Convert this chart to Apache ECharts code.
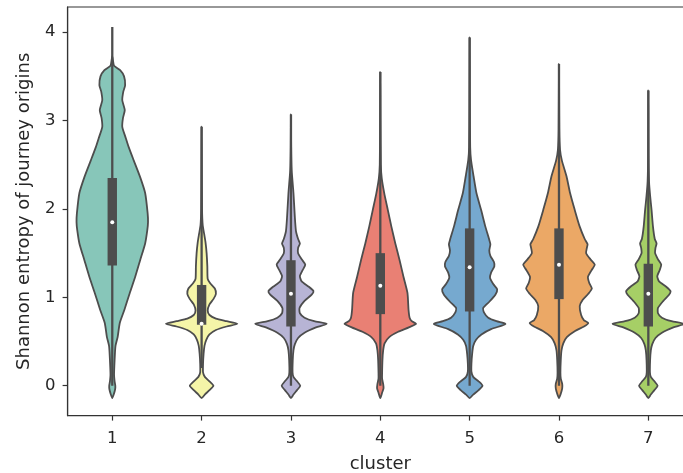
<!DOCTYPE html>
<html>
<head>
<meta charset="utf-8">
<script src="https://cdn.jsdelivr.net/npm/echarts@6/dist/echarts.min.js"></script>
<style>
  html, body { margin: 0; padding: 0; background: #fff; }
  #chart { width: 683px; height: 473px; }
</style>
</head>
<body>
<div id="chart"></div>
<script>
// Cluster labels on the x axis
const clusters = ['1', '2', '3', '4', '5', '6', '7'];
const yTicks = [0, 1, 2, 3, 4];

// Kernel density profiles: [entropy, relative density] (1 = widest violin)
const violin1 = [[-0.14,0],[-0.10,0.04],[-0.04,0.08],[0.0,0.085],[0.05,0.065],[0.12,0.05],[0.29,0.065],[0.45,0.09],[0.55,0.15],[0.71,0.21],[0.86,0.34],[1.05,0.49],[1.23,0.64],[1.42,0.78],[1.61,0.92],[1.76,0.98],[1.85,1.0],[1.95,0.99],[2.18,0.92],[2.36,0.78],[2.55,0.60],[2.70,0.46],[2.80,0.38],[2.93,0.28],[3.03,0.30],[3.12,0.35],[3.23,0.28],[3.33,0.31],[3.40,0.36],[3.50,0.33],[3.57,0.22],[3.62,0.05],[3.68,0.02],[3.73,0]];
const violin2 = [[-0.14,0],[-0.10,0.09],[-0.05,0.22],[0.0,0.33],[0.05,0.22],[0.10,0.09],[0.15,0.04],[0.25,0.04],[0.36,0.055],[0.45,0.08],[0.52,0.13],[0.58,0.22],[0.63,0.4],[0.67,0.7],[0.70,1.0],[0.73,0.7],[0.76,0.4],[0.80,0.22],[0.85,0.17],[0.92,0.22],[0.98,0.33],[1.04,0.40],[1.10,0.37],[1.16,0.24],[1.21,0.17],[1.35,0.16],[1.50,0.14],[1.62,0.11],[1.72,0.07],[1.82,0.03],[2.0,0.012],[2.5,0.005],[2.93,0]];
const violin3 = [[-0.14,0],[-0.10,0.07],[-0.05,0.17],[0.0,0.26],[0.05,0.17],[0.10,0.07],[0.15,0.045],[0.29,0.05],[0.40,0.07],[0.47,0.11],[0.54,0.2],[0.60,0.38],[0.66,0.7],[0.70,1.0],[0.73,0.65],[0.77,0.38],[0.82,0.25],[0.88,0.24],[0.96,0.38],[1.03,0.58],[1.07,0.63],[1.12,0.5],[1.18,0.3],[1.24,0.25],[1.31,0.33],[1.37,0.40],[1.43,0.3],[1.50,0.2],[1.56,0.2],[1.61,0.25],[1.66,0.2],[1.75,0.14],[1.90,0.11],[2.18,0.07],[2.44,0.02],[2.7,0.006],[3.07,0]];
const violin4 = [[-0.14,0],[-0.08,0.05],[-0.03,0.09],[0.02,0.08],[0.08,0.05],[0.14,0.05],[0.29,0.06],[0.40,0.08],[0.48,0.12],[0.55,0.25],[0.61,0.5],[0.66,0.8],[0.70,1.0],[0.73,0.88],[0.77,0.82],[0.86,0.79],[1.05,0.76],[1.23,0.65],[1.42,0.54],[1.61,0.42],[1.80,0.31],[1.99,0.21],[2.18,0.11],[2.35,0.04],[2.5,0.015],[3.0,0.005],[3.55,0]];
const violin5 = [[-0.14,0],[-0.10,0.1],[-0.05,0.25],[0.0,0.36],[0.05,0.25],[0.10,0.1],[0.16,0.05],[0.25,0.05],[0.36,0.07],[0.45,0.1],[0.52,0.18],[0.58,0.33],[0.64,0.6],[0.68,0.9],[0.70,1.0],[0.73,0.75],[0.77,0.52],[0.83,0.4],[0.88,0.38],[0.95,0.55],[1.03,0.72],[1.09,0.77],[1.15,0.66],[1.22,0.57],[1.28,0.6],[1.35,0.69],[1.40,0.68],[1.47,0.58],[1.53,0.55],[1.60,0.58],[1.65,0.55],[1.80,0.44],[1.99,0.32],[2.18,0.19],[2.37,0.11],[2.55,0.04],[2.7,0.015],[3.2,0.005],[3.94,0]];
const violin6 = [[-0.14,0],[-0.09,0.05],[-0.03,0.09],[0.02,0.09],[0.08,0.05],[0.15,0.04],[0.29,0.05],[0.40,0.07],[0.48,0.12],[0.55,0.22],[0.62,0.45],[0.67,0.7],[0.71,0.82],[0.74,0.7],[0.80,0.62],[0.90,0.58],[0.97,0.66],[1.04,0.82],[1.10,0.92],[1.16,0.85],[1.23,0.81],[1.30,0.9],[1.37,1.0],[1.43,0.88],[1.50,0.76],[1.56,0.78],[1.60,0.8],[1.66,0.72],[1.80,0.58],[1.99,0.44],[2.18,0.31],[2.37,0.21],[2.55,0.08],[2.67,0.03],[2.9,0.01],[3.64,0]];
const violin7 = [[-0.14,0],[-0.10,0.07],[-0.05,0.17],[0.0,0.26],[0.05,0.17],[0.10,0.07],[0.15,0.045],[0.29,0.05],[0.40,0.07],[0.47,0.11],[0.54,0.2],[0.60,0.38],[0.66,0.7],[0.70,1.0],[0.73,0.65],[0.77,0.38],[0.82,0.27],[0.88,0.27],[0.96,0.42],[1.03,0.58],[1.07,0.62],[1.12,0.5],[1.18,0.3],[1.24,0.25],[1.31,0.32],[1.37,0.36],[1.43,0.27],[1.50,0.19],[1.56,0.2],[1.61,0.23],[1.66,0.18],[1.80,0.13],[1.99,0.09],[2.15,0.05],[2.31,0.02],[2.6,0.006],[3.34,0]];

// Inner box statistics per cluster
const q1 = [1.36, 0.69, 0.67, 0.81, 0.84, 0.98, 0.67];
const median = [1.85, 0.70, 1.04, 1.13, 1.34, 1.37, 1.04];
const q3 = [2.35, 1.14, 1.42, 1.50, 1.78, 1.78, 1.38];
const whiskerLow = [0.0, 0.2, 0.0, 0.0, 0.0, 0.0, 0.0];
const whiskerHigh = [4.06, 2.93, 3.07, 3.55, 3.94, 3.64, 3.34];

const violins = [violin1, violin2, violin3, violin4, violin5, violin6, violin7];
const fillColors = ['#87c6b9', '#f5f5a8', '#b7b4d5', '#e98074', '#76a9cf', '#eba866', '#a6cf66'];
const edgeColor = '#4d4d4d';
const boxColor = '#4d4d4d';
const FONT = 'DejaVu Sans';

function renderViolin(params, api) {
  const i = params.dataIndex;
  const band = api.size([1, 0])[0];
  const half = band * 0.4;
  const prof = violins[i];
  const right = prof.map(function (p) {
    const c = api.coord([i, p[0]]);
    return [c[0] + p[1] * half, c[1]];
  });
  const left = prof.slice(1, -1).reverse().map(function (p) {
    const c = api.coord([i, p[0]]);
    return [c[0] - p[1] * half, c[1]];
  });
  const cx = api.coord([i, 0])[0];
  const yLo = api.coord([i, whiskerLow[i]])[1];
  const yHi = api.coord([i, whiskerHigh[i]])[1];
  const yQ1 = api.coord([i, q1[i]])[1];
  const yQ3 = api.coord([i, q3[i]])[1];
  const yMed = api.coord([i, median[i]])[1];
  const boxW = band * 0.105;
  return {
    type: 'group',
    children: [
      {
        type: 'polygon',
        shape: { points: right.concat(left), smooth: 0.2 },
        style: { fill: fillColors[i], stroke: edgeColor, lineWidth: 1.8, lineJoin: 'round' }
      },
      {
        type: 'line',
        shape: { x1: cx, y1: yLo, x2: cx, y2: yHi },
        style: { stroke: boxColor, lineWidth: 2.3 }
      },
      {
        type: 'rect',
        shape: { x: cx - boxW / 2, y: yQ3, width: boxW, height: yQ1 - yQ3 },
        style: { fill: boxColor }
      },
      {
        type: 'circle',
        shape: { cx: cx, cy: yMed, r: 2 },
        style: { fill: '#ffffff' }
      }
    ]
  };
}

const chart = echarts.init(document.getElementById('chart'), null, { renderer: 'canvas' });
chart.setOption({
  animation: false,
  backgroundColor: '#ffffff',
  grid: {
    left: 67.6, top: 7, width: 625.4, height: 408.6,
    outerBoundsMode: 'none',
    containLabel: false,
    show: true, borderColor: '#333333', borderWidth: 1.2, backgroundColor: 'transparent'
  },
  xAxis: {
    type: 'category',
    data: clusters,
    boundaryGap: true,
    axisLine: { show: true, onZero: false, lineStyle: { color: '#333333', width: 1.2 } },
    axisTick: { show: true, alignWithLabel: true, length: 5, lineStyle: { color: '#333333', width: 1.2 } },
    axisLabel: { color: '#262626', fontSize: 16.5, fontFamily: FONT, margin: 15 },
    splitLine: { show: false },
    name: 'cluster',
    nameLocation: 'middle',
    nameGap: 40,
    nameTextStyle: { color: '#262626', fontSize: 18, fontFamily: FONT }
  },
  yAxis: {
    type: 'value',
    min: -0.338,
    max: 4.285,
    axisLine: { show: true, onZero: false, lineStyle: { color: '#333333', width: 1.2 } },
    axisTick: { show: true, length: 5, customValues: yTicks, lineStyle: { color: '#333333', width: 1.2 } },
    axisLabel: { color: '#262626', fontSize: 16.5, fontFamily: FONT, margin: 12, customValues: yTicks },
    splitLine: { show: false },
    name: 'Shannon entropy of journey origins',
    nameLocation: 'middle',
    nameGap: 34,
    nameRotate: 90,
    nameTextStyle: { color: '#262626', fontSize: 18, fontFamily: FONT }
  },
  series: [{
    type: 'custom',
    renderItem: renderViolin,
    encode: { x: 0, y: 1 },
    data: clusters.map(function (c, i) { return [i, median[i]]; }),
    clip: false,
    z: 2
  }]
});
</script>
</body>
</html>
